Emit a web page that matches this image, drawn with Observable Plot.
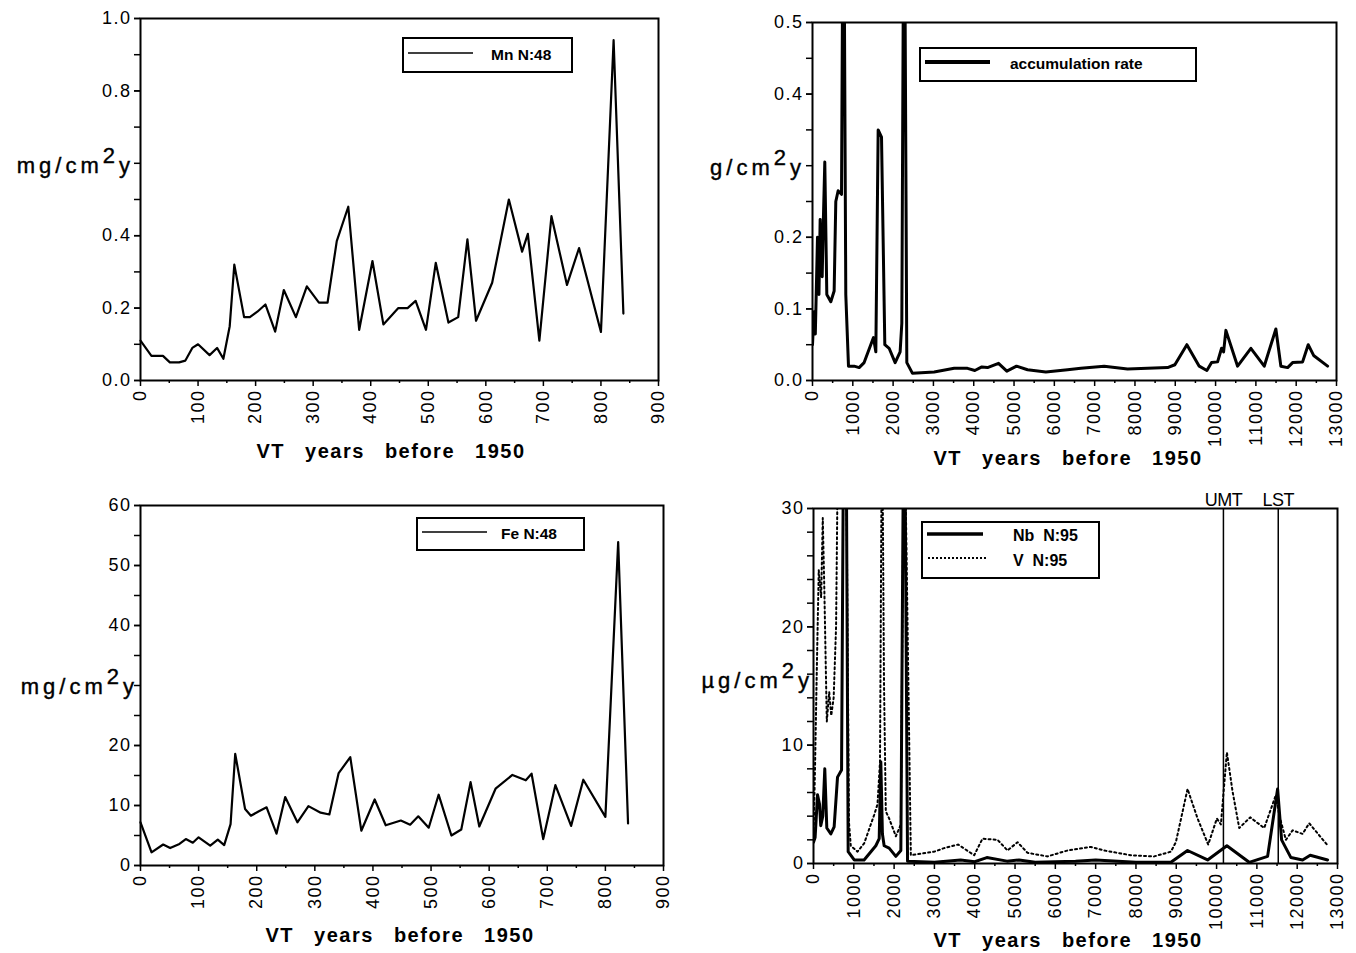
<!DOCTYPE html>
<html>
<head>
<meta charset="utf-8">
<script src="https://cdn.jsdelivr.net/npm/d3@7"></script>
<script src="https://cdn.jsdelivr.net/npm/@observablehq/plot@0.6"></script>
<style>
  body { margin: 0; background: #fff; }
  #page { position: relative; width: 1356px; height: 953px; overflow: hidden; background: #fff;
          font-family: "Liberation Sans", Arial, sans-serif; }
  .panel { position: absolute; }
  .panel svg { overflow: visible; display: block; }
</style>
</head>
<body>
<div id="page"></div>
<script>
// ---------- data ----------
// Mn & Fe samples (VT years before 1950), N:48
const sampleYears = [0,19,39,51,67,78,90,100,120,133,144,155,163,180,190,203,217,234,249,270,289,310,325,341,361,380,403,422,448,464,478,496,513,535,552,568,583,611,640,663,673,693,714,741,762,800,822,839];
const mnFlux = [0.11,0.068,0.068,0.05,0.05,0.055,0.09,0.10,0.07,0.09,0.06,0.15,0.32,0.175,0.175,0.19,0.21,0.135,0.25,0.175,0.26,0.215,0.215,0.385,0.48,0.14,0.33,0.155,0.20,0.20,0.22,0.14,0.325,0.16,0.175,0.39,0.165,0.27,0.50,0.356,0.405,0.11,0.454,0.264,0.366,0.134,0.94,0.185];
const feFlux = [7.2,2.2,3.5,2.9,3.6,4.4,3.8,4.7,3.3,4.3,3.4,6.9,18.6,9.4,8.3,9.0,9.7,5.3,11.4,7.2,9.9,8.8,8.5,15.4,18.05,5.8,11.0,6.7,7.5,6.8,8.2,6.3,11.8,5.0,6.0,13.9,6.5,12.8,15.1,14.2,15.3,4.4,13.4,6.6,14.3,8.1,53.9,7.0];

// accumulation rate (g/cm2y)
const accYears = [0,40,70,124,160,190,240,270,305,355,454,537,578,636,720,768,826,893,1033,1157,1281,1513,1571,1629,1712,1794,1901,2050,2174,2216,2273,2340,2481,3018,3514,3846,4027,4201,4342,4615,4821,5062,5335,5789,6328,6658,7236,7816,8809,8990,9288,9594,9784,9901,10050,10149,10199,10256,10546,10876,11207,11496,11620,11787,11911,12159,12298,12432,12779];
const accRate = [0.05,0.096,0.065,0.2,0.12,0.225,0.145,0.225,0.305,0.12,0.11,0.125,0.25,0.265,0.26,0.8,0.12,0.02,0.02,0.018,0.025,0.06,0.04,0.35,0.34,0.05,0.045,0.025,0.04,0.08,0.8,0.025,0.01,0.012,0.017,0.017,0.014,0.019,0.018,0.024,0.013,0.02,0.015,0.012,0.015,0.017,0.02,0.016,0.018,0.022,0.05,0.02,0.014,0.025,0.026,0.045,0.04,0.07,0.02,0.045,0.02,0.072,0.02,0.018,0.025,0.026,0.05,0.035,0.02];

// Nb (µg/cm2y), N:95
const nbYears = [0,40,100,150,180,230,280,330,430,512,596,696,760,800,860,1010,1255,1546,1630,1670,1710,1753,1877,2043,2167,2250,2333,3000,3650,4000,4300,4800,5100,5500,6500,7000,8000,8866,9280,9777,10256,10809,11266,11514,11613,11844,12134,12323,12754];
const nbFlux = [1.8,2.2,5.8,5.0,3.2,4.0,8.0,3.0,2.5,3.1,7.3,7.9,45,45,1.0,0.3,0.3,1.5,2.1,8.6,2.5,1.5,1.3,0.6,1.1,45,0.2,0.1,0.3,0.15,0.5,0.2,0.3,0.1,0.2,0.3,0.1,0.1,1.1,0.3,1.5,0.1,0.6,6.3,2.0,0.5,0.3,0.7,0.3];

// V (µg/cm2y), N:95
const vYears = [0,40,80,130,190,230,270,330,390,440,500,560,620,800,880,925,1092,1257,1504,1587,1650,1700,1750,1794,1877,2043,2167,2250,2415,2994,3242,3590,3987,4193,4566,4814,5062,5310,5806,6303,6881,7211,7874,8452,8866,8990,9280,9529,9792,10007,10107,10256,10396,10562,10834,11182,11472,11560,11720,11886,12134,12298,12737];
const vFlux = [2.0,8.5,16,24.8,22.5,29.2,23,12,14.5,12.5,14,20,40,40,3.5,1.5,1.0,1.7,4.1,5.0,8.6,40,15,4.4,3.8,2.3,3.3,40,0.7,1.0,1.3,1.6,0.7,2.1,2.0,1.1,1.8,0.9,0.6,1.1,1.4,1.1,0.7,0.6,1.0,1.8,6.3,3.8,1.6,3.8,3.3,9.4,6.1,3.0,3.9,3.0,5.8,4.0,2.0,2.8,2.5,3.4,1.6];

// boundaries
const boundaryYears = [10170, 11530];
const boundaryLabels = ["UMT", "LST"];

// ticks
const shortXTicks = [0,100,200,300,400,500,600,700,800,900];
const shortXMinor = [50,150,250,350,450,550,650,750,850];
const longXTicks = [0,1000,2000,3000,4000,5000,6000,7000,8000,9000,10000,11000,12000,13000];
const longXMinor = [500,1500,2500,3500,4500,5500,6500,7500,8500,9500,10500,11500,12500];
const mnYLabelTicks = [0,0.2,0.4,0.8,1.0];
const mnYMinor = [0,0.1,0.2,0.3,0.4,0.5,0.6,0.7,0.8,0.9,1.0];
const accYLabelTicks = [0,0.1,0.2,0.4,0.5];
const accYMinor = [0,0.05,0.1,0.15,0.2,0.25,0.3,0.35,0.4,0.45,0.5];
const feYLabelTicks = [0,10,20,40,50,60];
const feYMinor = [0,5,10,15,20,25,30,35,40,45,50,55,60];
const elemYLabelTicks = [0,10,20,30];
const elemYMinor = [0,2,4,6,8,10,12,14,16,18,20,22,24,26,28,30];

// text
const xTitle = "VT years before 1950";
const legendMn = "Mn N:48";
const legendFe = "Fe N:48";
const legendAcc = "accumulation rate";
const legendNb = "Nb  N:95";
const legendV = "V  N:95";

// ---------- tables ----------
const mnData = sampleYears.map((year, i) => ({year, value: mnFlux[i]}));
const feData = sampleYears.map((year, i) => ({year, value: feFlux[i]}));
const accData = accYears.map((year, i) => ({year, value: accRate[i]}));
const nbData = nbYears.map((year, i) => ({year, value: nbFlux[i]}));
const vData = vYears.map((year, i) => ({year, value: vFlux[i]}));

const page = document.getElementById("page");
const FONT = "'Liberation Sans', Arial, Helvetica, sans-serif";
const blank = () => "";
const TICKFS = 18;

function makePanel(spec) {
  const chart = Plot.plot({
    width: spec.width, height: spec.height,
    marginLeft: spec.m[0], marginTop: spec.m[1], marginRight: spec.m[2], marginBottom: spec.m[3],
    style: {fontFamily: FONT, fontSize: TICKFS + "px", letterSpacing: "1.5px", background: "transparent", color: "black"},
    x: {domain: spec.xDomain, label: null},
    y: {domain: spec.yDomain, label: null},
    marks: [
      Plot.axisY({ticks: spec.yMinor, tickSize: 6, tickFormat: blank, strokeWidth: 1.5, label: null}),
      Plot.axisY({ticks: spec.yLabelTicks, tickSize: 6, tickPadding: 3, tickFormat: spec.yFmt, strokeWidth: 1.5, label: null, fontSize: TICKFS}),
      Plot.axisX({ticks: spec.xMinor, tickSize: 3, tickFormat: blank, strokeWidth: 1.5, label: null}),
      Plot.axisX({ticks: spec.xMajor, tickSize: 6, tickPadding: 3, tickRotate: -90, tickFormat: d => String(d), strokeWidth: 1.5, label: null, fontSize: TICKFS}),
      ...spec.marks,
      Plot.frame({stroke: "black", strokeWidth: 2})
    ]
  });
  const div = document.createElement("div");
  div.className = "panel";
  div.style.left = spec.left + "px";
  div.style.top = spec.top + "px";
  div.appendChild(chart);
  page.appendChild(div);
  return chart;
}

const f1 = d3.format(".1f");
const f0 = d => String(d);

makePanel({
  left: 0, top: 0, width: 678, height: 470, m: [140, 18, 20, 90],
  xDomain: [0, 900], yDomain: [0, 1],
  xMajor: shortXTicks, xMinor: shortXMinor, yLabelTicks: mnYLabelTicks, yMinor: mnYMinor, yFmt: f1,
  marks: [Plot.line(mnData, {x: "year", y: "value", stroke: "black", strokeWidth: 2.2})]
});

makePanel({
  left: 678, top: 0, width: 678, height: 470, m: [134, 22, 20, 90],
  xDomain: [0, 13000], yDomain: [0, 0.5],
  xMajor: longXTicks, xMinor: longXMinor, yLabelTicks: accYLabelTicks, yMinor: accYMinor, yFmt: f1,
  marks: [Plot.line(accData, {x: "year", y: "value", stroke: "black", strokeWidth: 3, clip: true})]
});

makePanel({
  left: 0, top: 476, width: 678, height: 477, m: [140, 29, 15, 88],
  xDomain: [0, 900], yDomain: [0, 60],
  xMajor: shortXTicks, xMinor: shortXMinor, yLabelTicks: feYLabelTicks, yMinor: feYMinor, yFmt: f0,
  marks: [Plot.line(feData, {x: "year", y: "value", stroke: "black", strokeWidth: 2.2})]
});

const p4 = makePanel({
  left: 678, top: 476, width: 678, height: 477, m: [135, 32, 19, 90],
  xDomain: [0, 13000], yDomain: [0, 30],
  xMajor: longXTicks, xMinor: longXMinor, yLabelTicks: elemYLabelTicks, yMinor: elemYMinor, yFmt: f0,
  marks: [
    Plot.ruleX(boundaryYears, {stroke: "black", strokeWidth: 1.5}),
    Plot.text(boundaryYears, {x: d => d, text: (d, i) => boundaryLabels[i], frameAnchor: "top", dy: -15, fontSize: 18, fill: "black"}),
    Plot.line(vData, {x: "year", y: "value", stroke: "black", strokeWidth: 2, strokeDasharray: "2,3", clip: true}),
    Plot.line(nbData, {x: "year", y: "value", stroke: "black", strokeWidth: 3, clip: true})
  ]
});
d3.select(p4).selectAll("text").filter(function () { return boundaryLabels.includes(this.textContent); })
  .style("letter-spacing", "-0.5px");

// ---------- overlay: axis titles, unit labels, legends ----------
const ov = d3.select(page).append("svg")
  .attr("width", 1356).attr("height", 953)
  .style("position", "absolute").style("left", 0).style("top", 0)
  .style("pointer-events", "none")
  .attr("font-family", FONT);

function unitLabel(xRight, yBase, prefix) {
  const t = ov.append("text").attr("x", xRight).attr("y", yBase).attr("text-anchor", "end")
    .attr("font-size", 22).attr("letter-spacing", "4px").attr("fill", "black")
    .attr("stroke", "black").attr("stroke-width", 0.4);
  t.append("tspan").text(prefix);
  t.append("tspan").attr("dy", -10).text("2");
  t.append("tspan").attr("dy", 10).text("y");
}
unitLabel(134, 173, "mg/cm");
unitLabel(805, 175, "g/cm");
unitLabel(138, 694, "mg/cm");
unitLabel(813, 688, "\u00b5g/cm");

function xTitleAt(cx, yBase) {
  ov.append("text").attr("x", cx).attr("y", yBase).attr("text-anchor", "middle")
    .attr("font-size", 20).attr("font-weight", "bold").attr("letter-spacing", "1.5px")
    .attr("word-spacing", "13px").attr("fill", "black").text(xTitle);
}
xTitleAt(391, 458);
xTitleAt(1068, 465);
xTitleAt(400, 942);
xTitleAt(1068, 947);

function legendBox(x, y, w, h) {
  ov.append("rect").attr("x", x).attr("y", y).attr("width", w).attr("height", h)
    .attr("fill", "white").attr("stroke", "black").attr("stroke-width", 2);
}
function legendLine(x1, x2, y, sw, dash) {
  const l = ov.append("line").attr("x1", x1).attr("x2", x2).attr("y1", y).attr("y2", y)
    .attr("stroke", "black").attr("stroke-width", sw);
  if (dash) l.attr("stroke-dasharray", dash);
}
function legendText(x, y, s, size) {
  ov.append("text").attr("x", x).attr("y", y).attr("font-size", size).attr("font-weight", "bold")
    .attr("fill", "black").style("white-space", "pre").text(s);
}
legendBox(403, 38, 169, 34);
legendLine(408, 473, 53, 1.5);
legendText(491, 60, legendMn, 15.5);

legendBox(920, 48, 276, 33);
legendLine(925, 990, 62, 4);
legendText(1010, 69, legendAcc, 15.5);

legendBox(417, 518, 167, 32);
legendLine(422, 487, 532, 1.5);
legendText(501, 539, legendFe, 15.5);

legendBox(922, 522, 177, 56);
legendLine(927, 983, 534, 3.5);
legendText(1013, 541, legendNb, 16);
legendLine(928, 988, 558, 2, "2,2");
legendText(1013, 566, legendV, 16);
</script>
</body>
</html>
